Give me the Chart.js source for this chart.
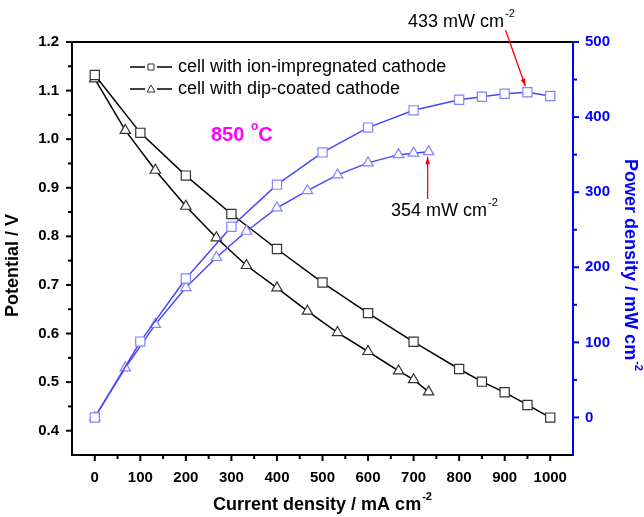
<!DOCTYPE html>
<html>
<head>
<meta charset="utf-8">
<script src="https://cdn.jsdelivr.net/npm/chart.js@4.4.1/dist/chart.umd.min.js"></script>
<style>
  html, body { margin: 0; padding: 0; background: #fff; }
  #wrap { width: 644px; height: 517px; }
</style>
</head>
<body>
<div id="wrap"><canvas id="fuelCell" width="644" height="517"></canvas></div>
<script>
// values
const currentIon   = [0, 100, 200, 300, 400, 500, 600, 700, 800, 850, 900, 950, 1000];
const potentialIon = [1.132, 1.013, 0.925, 0.846, 0.774, 0.705, 0.642, 0.583, 0.527, 0.501, 0.479, 0.453, 0.427];
const powerIon     = [0, 101, 185, 254, 310, 353, 386, 409, 423, 427, 431, 433, 428];

const currentDip   = [0, 67, 133, 200, 267, 333, 400, 467, 533, 600, 667, 700, 733];
const potentialDip = [1.124, 1.018, 0.936, 0.862, 0.797, 0.740, 0.694, 0.646, 0.602, 0.563, 0.523, 0.505, 0.480];
const powerDip     = [0, 66, 124, 173, 213, 248, 279, 302, 323, 339, 350, 352, 354];

const xMajor = [0, 100, 200, 300, 400, 500, 600, 700, 800, 900, 1000];
const xMinor = [50, 150, 250, 350, 450, 550, 650, 750, 850, 950];
const vMajor = [0.4, 0.5, 0.6, 0.7, 0.8, 0.9, 1.0, 1.1, 1.2];
const vMinor = [0.45, 0.55, 0.65, 0.75, 0.85, 0.95, 1.05, 1.15];
const pMajor = [0, 100, 200, 300, 400, 500];
const pMinor = [50, 150, 250, 350, 450];

const legendLabels = ['cell with ion-impregnated cathode', 'cell with dip-coated cathode'];

const FONT = 'Arial, "Liberation Sans", sans-serif';
const BLUE = '#0000ff';
const POWER_LINE = '#4646ff';
const POWER_MARK = '#8282ff';

const pts = (xs, ys) => xs.map((x, i) => ({ x: x, y: ys[i] }));

// text with a small raised part, optionally followed by more text
function textSup(ctx, text, sup, x, y, size, bold, color, align, tail) {
    const w = bold ? 'bold ' : '';
    const f1 = w + size + 'px ' + FONT;
    const f2 = w + Math.round(size * 0.6) + 'px ' + FONT;
    tail = tail || '';
    ctx.font = f1;
    const w1 = ctx.measureText(text).width;
    const w3 = ctx.measureText(tail).width;
    ctx.font = f2;
    const w2 = ctx.measureText(sup).width;
    const total = w1 + w2 + w3 + 1;
    const x0 = align === 'center' ? x - total / 2 : x;
    ctx.fillStyle = color;
    ctx.textAlign = 'left';
    ctx.textBaseline = 'middle';
    ctx.font = f1;
    ctx.fillText(text, x0, y);
    if (tail) ctx.fillText(tail, x0 + w1 + w2 + 1, y);
    ctx.font = f2;
    ctx.fillText(sup, x0 + w1 + 1, y - size * 0.42);
}

function arrow(ctx, x1, y1, x2, y2) {
    const a = Math.atan2(y2 - y1, x2 - x1);
    ctx.save();
    ctx.strokeStyle = '#ff0000';
    ctx.fillStyle = '#ff0000';
    ctx.lineWidth = 1.3;
    ctx.beginPath();
    ctx.moveTo(x1, y1);
    ctx.lineTo(x2, y2);
    ctx.stroke();
    ctx.beginPath();
    ctx.moveTo(x2, y2);
    ctx.lineTo(x2 - 8 * Math.cos(a - 0.3), y2 - 8 * Math.sin(a - 0.3));
    ctx.lineTo(x2 - 8 * Math.cos(a + 0.3), y2 - 8 * Math.sin(a + 0.3));
    ctx.closePath();
    ctx.fill();
    ctx.restore();
}

const decor = {
    id: 'decor',
    afterDraw(chart) {
        const ctx = chart.ctx;
        const area = chart.chartArea;
        const sx = chart.scales.x, sv = chart.scales.y, sp = chart.scales.y2;
        ctx.save();

        // top frame line
        ctx.strokeStyle = '#000';
        ctx.lineWidth = 2;
        ctx.beginPath();
        ctx.moveTo(area.left - 1, area.top);
        ctx.lineTo(area.right, area.top);
        ctx.stroke();

        // tick marks, outward
        ctx.lineWidth = 2;
        const tickX = (vals, len) => vals.forEach(v => {
            const px = sx.getPixelForValue(v);
            ctx.beginPath(); ctx.moveTo(px, area.bottom); ctx.lineTo(px, area.bottom + len); ctx.stroke();
        });
        const tickV = (vals, len) => vals.forEach(v => {
            const py = sv.getPixelForValue(v);
            ctx.beginPath(); ctx.moveTo(area.left, py); ctx.lineTo(area.left - len, py); ctx.stroke();
        });
        const tickP = (vals, len) => vals.forEach(v => {
            const py = sp.getPixelForValue(v);
            ctx.beginPath(); ctx.moveTo(area.right, py); ctx.lineTo(area.right + len, py); ctx.stroke();
        });
        ctx.strokeStyle = '#000';
        tickX(xMajor, 6); tickX(xMinor, 4);
        tickV(vMajor, 6); tickV(vMinor, 4);
        ctx.strokeStyle = BLUE;
        tickP(pMajor, 6); tickP(pMinor, 4);

        // axis titles
        textSup(ctx, 'Current density / mA cm', '-2', (area.left + area.right) / 2, 505, 18, true, '#000', 'center');
        ctx.save();
        ctx.translate(13, 265);
        ctx.rotate(-Math.PI / 2);
        textSup(ctx, 'Potential / V', '', 0, 0, 18, true, '#000', 'center');
        ctx.restore();
        ctx.save();
        ctx.translate(630, 265);
        ctx.rotate(Math.PI / 2);
        textSup(ctx, 'Power density / mW cm', '-2', 0, 0, 18, true, BLUE, 'center');
        ctx.restore();

        // legend
        ctx.strokeStyle = '#000';
        ctx.lineWidth = 1.5;
        [67, 89].forEach((ly, i) => {
            ctx.beginPath();
            ctx.moveTo(130, ly); ctx.lineTo(145, ly);
            ctx.moveTo(157, ly); ctx.lineTo(172, ly);
            ctx.stroke();
            ctx.lineWidth = 1;
            ctx.strokeStyle = '#333';
            ctx.beginPath();
            if (i === 0) {
                ctx.rect(148, ly - 3, 6, 6);
            } else {
                ctx.moveTo(151, ly - 4); ctx.lineTo(155, ly + 3); ctx.lineTo(147, ly + 3); ctx.closePath();
            }
            ctx.stroke();
            ctx.strokeStyle = '#000';
            ctx.lineWidth = 1.5;
            textSup(ctx, legendLabels[i], '', 178, ly, 18, false, '#000', 'left');
        });

        // temperature label
        textSup(ctx, '850 ', 'o', 211, 135, 20, true, '#ff00ff', 'left', 'C');

        // peak annotations
        const pIon = { x: sx.getPixelForValue(currentIon[11]), y: sp.getPixelForValue(powerIon[11]) };
        const pDip = { x: sx.getPixelForValue(currentDip[12]), y: sp.getPixelForValue(powerDip[12]) };
        textSup(ctx, powerIon[11] + ' mW cm', '-2', 408, 22, 18, false, '#000', 'left');
        arrow(ctx, pIon.x - 22, 30, pIon.x - 2, pIon.y - 6);
        textSup(ctx, powerDip[12] + ' mW cm', '-2', 391, 211, 18, false, '#000', 'left');
        arrow(ctx, pDip.x - 1, 199, pDip.x - 1, pDip.y + 5);

        ctx.restore();
    }
};

const markerBase = { showLine: true, borderWidth: 1.5, pointBackgroundColor: '#fff', pointBorderWidth: 1.2 };

new Chart(document.getElementById('fuelCell'), {
    type: 'scatter',
    data: {
        datasets: [Object.assign({}, markerBase, {
            label: 'V ion',
            data: pts(currentIon, potentialIon),
            yAxisID: 'y',
            borderColor: '#000',
            pointStyle: 'rect',
            pointRadius: 6.5,
            pointBorderColor: '#333',
            order: 2
        }), Object.assign({}, markerBase, {
            label: 'V dip',
            data: pts(currentDip, potentialDip),
            yAxisID: 'y',
            borderColor: '#000',
            pointStyle: 'triangle',
            pointRadius: 6,
            pointBorderColor: '#333',
            order: 2
        }), Object.assign({}, markerBase, {
            label: 'P ion',
            data: pts(currentIon, powerIon),
            yAxisID: 'y2',
            borderColor: POWER_LINE,
            pointStyle: 'rect',
            pointRadius: 6.5,
            pointBorderColor: POWER_MARK,
            order: 1
        }), Object.assign({}, markerBase, {
            label: 'P dip',
            data: pts(currentDip, powerDip),
            yAxisID: 'y2',
            borderColor: POWER_LINE,
            pointStyle: 'triangle',
            pointRadius: 6,
            pointBorderColor: POWER_MARK,
            order: 1
        })]
    },
    options: {
        responsive: false,
        animation: false,
        layout: { padding: { top: 42, left: 0, right: 0, bottom: 0 } },
        plugins: { legend: { display: false }, tooltip: { enabled: false } },
        scales: {
            x: {
                type: 'linear',
                min: -50, max: 1050,
                afterBuildTicks: s => { s.ticks = xMajor.map(v => ({ value: v })); },
                afterFit: s => { s.height = 62; },
                grid: { display: false, drawTicks: false },
                border: { display: true, color: '#000', width: 2 },
                ticks: { color: '#000', padding: 14, maxRotation: 0, font: { family: FONT, size: 15, weight: 'bold' },
                         callback: v => String(v) }
            },
            y: {
                position: 'left',
                min: 0.35, max: 1.2,
                afterBuildTicks: s => { s.ticks = vMajor.map(v => ({ value: v })); },
                afterFit: s => { s.width = 72; },
                grid: { display: false, drawTicks: false },
                border: { display: true, color: '#000', width: 2 },
                ticks: { color: '#000', padding: 13, font: { family: FONT, size: 15, weight: 'bold' },
                         callback: v => v.toFixed(1) }
            },
            y2: {
                position: 'right',
                min: -50, max: 500,
                afterBuildTicks: s => { s.ticks = pMajor.map(v => ({ value: v })); },
                afterFit: s => { s.width = 71; },
                grid: { display: false, drawTicks: false },
                border: { display: true, color: BLUE, width: 2 },
                ticks: { color: BLUE, padding: 12, font: { family: FONT, size: 15, weight: 'bold' },
                         callback: v => String(v) }
            }
        }
    },
    plugins: [decor]
});
</script>
</body>
</html>
